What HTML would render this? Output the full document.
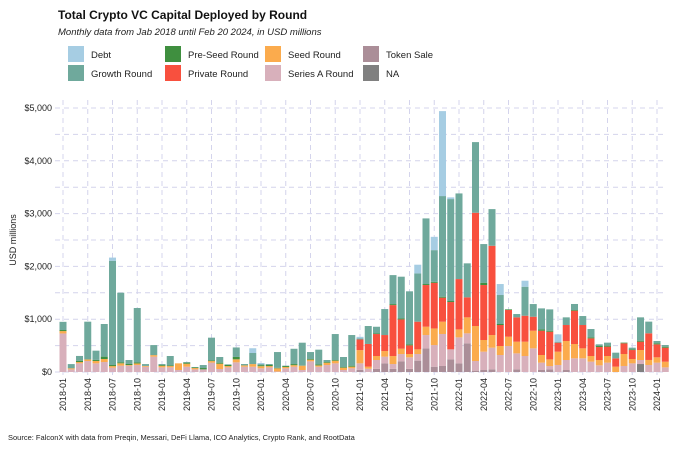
<!DOCTYPE html>
<html><head><meta charset="utf-8">
<style>
body{margin:0;background:#fff;font-family:"Liberation Sans",sans-serif;}
#wrap{position:relative;width:675px;height:450px;overflow:hidden;}
</style></head>
<body>
<div id="wrap">
<svg id="chart" width="675" height="450" xmlns="http://www.w3.org/2000/svg">
<text x="58" y="19" font-size="12" font-weight="bold" fill="#111">Total Crypto VC Capital Deployed by Round</text>
<text x="58" y="35" font-size="9.5" font-style="italic" fill="#222">Monthly data from Jab 2018 until Feb 20 2024, in USD millions</text>
<g id="legend"></g>
<g id="grid"></g>
<g id="bars"></g>
<g id="axes"></g>
<text transform="translate(16,240) rotate(-90)" text-anchor="middle" font-size="9" fill="#222">USD millions</text>
<text x="8" y="440" font-size="7.5" fill="#222">Source: FalconX with data from Preqin, Messari, DeFi Llama, ICO Analytics, Crypto Rank, and RootData</text>
</svg>
</div>
<script>
const months=[];for(let y=2018;y<=2024;y++)for(let m=1;m<=12;m++){if(y===2024&&m>2)break;months.push(y+"-"+String(m).padStart(2,"0"));}
const seriesNames=["NA","Token Sale","Series A Round","Seed Round","Private Round","Pre-Seed Round","Growth Round","Debt"];
const naVals=[0,0,0,0,0,0,0,0,0,0,0,0,0,0,0,0,0,0,0,0,0,0,0,0,0,0,0,0,0,0,0,0,0,0,0,0,0,0,0,0,0,0,0,0,0,0,0,0,0,0,0,0,0,0,0,0,0,0,0,0,0,0,0,0,0,0,0,0,0,0,151,0,0,0];
const tokenVals=[0,0,0,0,0,0,0,0,0,0,0,0,0,0,0,0,0,0,0,0,0,0,0,0,0,0,0,0,0,0,0,0,0,0,0,0,40,0,60,164,60,200,60,215,448,100,114,240,164,543,25,38,50,0,0,50,0,0,38,50,0,38,0,0,0,0,0,0,0,0,0,0,0,0];
const seriesAVals=[730,50,164,208,164,189,82,120,120,132,100,290,88,88,38,100,50,50,177,57,88,183,100,100,70,88,10,70,100,38,202,100,132,164,38,70,124,63,167,126,91,140,218,126,252,410,606,189,492,189,183,347,410,322,492,303,303,448,139,63,133,189,259,259,196,126,177,0,114,164,76,133,177,88];
const seedVals=[45,20,25,30,45,57,30,45,12,30,15,30,30,25,126,57,25,0,30,100,25,57,25,50,40,25,60,25,30,82,32,25,44,50,44,31,250,38,76,107,151,101,63,88,158,315,233,0,151,303,663,221,240,170,177,221,271,334,145,126,252,360,271,189,107,101,126,101,227,82,189,95,101,107];
const privateVals=[0,0,0,0,0,0,0,0,0,0,0,0,0,0,0,0,0,0,0,0,0,0,0,0,0,0,0,0,0,0,0,0,0,0,0,0,202,430,416,303,965,555,164,524,789,864,454,896,953,379,2145,1041,1691,398,505,461,492,265,460,524,170,303,631,442,334,246,177,158,202,170,158,505,246,265];
const preSeedVals=[20,0,25,0,20,45,20,20,20,20,0,0,15,12,0,20,12,25,13,20,20,45,0,0,20,20,8,18,20,0,12,20,13,13,12,19,0,0,12,0,19,19,20,0,19,19,19,19,0,0,0,44,0,19,12,0,0,0,25,19,0,0,13,0,19,19,19,0,13,13,19,0,19,19];
const growthVals=[155,80,90,715,175,618,1975,1317,75,1030,35,190,18,178,0,12,8,57,430,107,12,180,26,210,20,18,300,7,290,435,132,278,38,492,190,580,20,340,126,492,549,790,1003,915,1243,600,1906,1931,1622,644,1338,732,694,549,0,63,549,240,398,404,19,145,114,170,158,32,57,107,0,32,442,221,44,32];
const debtVals=[0,0,0,0,0,0,60,0,0,0,0,0,0,0,0,0,0,0,0,0,0,0,0,90,20,0,0,0,0,0,0,0,0,0,0,0,30,0,0,0,0,0,0,164,0,252,1609,32,0,0,0,0,0,208,0,0,114,0,0,0,139,0,0,0,0,0,0,0,0,0,0,0,0,0];
const yTicks=[0,1000,2000,3000,4000,5000];
const yTickLabels=["$0","$1,000","$2,000","$3,000","$4,000","$5,000"];
const colors=["#808080","#ab8e98","#d8b0bb","#fbab4d","#f8503e","#3f8f3f","#6fa99c","#a6cde3"];
const allSeries=[naVals,tokenVals,seriesAVals,seedVals,privateVals,preSeedVals,growthVals,debtVals];
const NS="http://www.w3.org/2000/svg";
const X0=63,STEP=8.25,BW=7,Y0=372,PPU=0.0528;
function xPos(i){return X0+STEP*i;}
function yPos(v){return Y0-v*PPU;}
function mk(tag,attrs,parent){const e=document.createElementNS(NS,tag);for(const k in attrs)e.setAttribute(k,attrs[k]);parent.appendChild(e);return e;}
const grid=document.getElementById('grid'),bars=document.getElementById('bars'),axes=document.getElementById('axes'),legend=document.getElementById('legend');
// horizontal grid (major + minor)
for(let v=0;v<=5000;v+=500){const l=mk('line',{x1:55,x2:665,y1:yPos(v),y2:yPos(v),stroke:'#d4d4ec','stroke-width':1,'stroke-dasharray':'5,4'},grid);

}
for(let i=0;i<months.length;i+=3){const l=mk('line',{x1:xPos(i),x2:xPos(i),y1:100,y2:380,stroke:'#d4d4ec','stroke-width':1,'stroke-dasharray':'5,4'},grid);

}
// bars
for(let i=0;i<months.length;i++){let acc=0;for(let s=0;s<allSeries.length;s++){const v=allSeries[s][i];if(!v)continue;
const r=mk('rect',{x:xPos(i)-BW/2,y:yPos(acc+v),width:BW,height:v*PPU,fill:colors[s]},bars);


acc+=v;}}
// y ticks
yTicks.forEach((t,k)=>{const tx=mk('text',{x:52,y:yPos(t)+3,'text-anchor':'end','font-size':9,fill:'#222'},axes);tx.textContent=yTickLabels[k];

});
// x ticks
for(let i=0;i<months.length;i+=3){const tx=mk('text',{transform:'translate('+(xPos(i)+3)+',378) rotate(-90)','text-anchor':'end','font-size':9,fill:'#222'},axes);tx.textContent=months[i];

}
// legend
const legItems=[["Debt","#a6cde3",68,46],["Growth Round","#6fa99c",68,65],["Pre-Seed Round","#3f8f3f",165,46],["Private Round","#f8503e",165,65],["Seed Round","#fbab4d",265,46],["Series A Round","#d8b0bb",265,65],["Token Sale","#ab8e98",363,46],["NA","#808080",363,65]];
legItems.forEach(it=>{const g=mk('g',{},legend);


mk('rect',{x:it[2],y:it[3],width:16,height:16,fill:it[1]},g);
const t=mk('text',{x:it[2]+23,y:it[3]+12,'font-size':9.5,fill:'#222'},g);t.textContent=it[0];});
</script>
</body></html>
